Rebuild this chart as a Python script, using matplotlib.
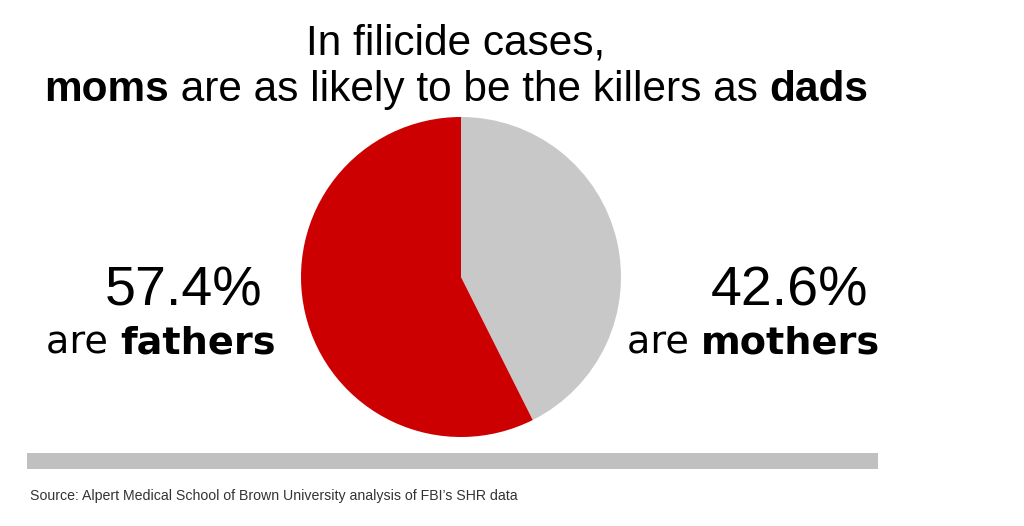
import matplotlib
matplotlib.use("Agg")
import matplotlib.pyplot as plt

# data
labels = ["mothers", "fathers"]
shares = [42.6, 57.4]
colors = ["#c8c8c8", "#cc0000"]

title_1 = "In filicide cases,"
title_2 = [("moms", "bold"), (" are as likely to be the killers as ", "normal"), ("dads", "bold")]
left_pct = "57.4%"
right_pct = "42.6%"
source = "Source: Alpert Medical School of Brown University analysis of FBI\u2019s SHR data"

W, H = 1024, 526
sans = ["Liberation Sans", "DejaVu Sans"]
wide = ["DejaVu Sans"]

fig = plt.figure(figsize=(W / 100, H / 100), dpi=100)
fig.patch.set_facecolor("white")

# pie, centre (461, 277), radius 160 px
ax = fig.add_axes([(461 - 160) / W, (H - 277 - 160) / H, 320 / W, 320 / H])
ax.pie(shares, colors=colors, startangle=90, counterclock=False,
       wedgeprops=dict(linewidth=0))
ax.set_xlim(-1, 1)
ax.set_ylim(-1, 1)
ax.set_aspect("equal")
ax.axis("off")

renderer = fig.canvas.get_renderer()


def fy(py):
    return 1 - py / H


def rich(px, py, parts, size, family, ha="center", color="black"):
    # place text pieces with mixed weights on one baseline
    widths = []
    for s, w in parts:
        t = fig.text(0, 0, s, fontsize=size, fontweight=w, family=family)
        widths.append(t.get_window_extent(renderer).width)
        t.remove()
    total = sum(widths)
    if ha == "center":
        x = px - total / 2
    elif ha == "right":
        x = px - total
    else:
        x = px
    for (s, w), wd in zip(parts, widths):
        fig.text(x / W, fy(py), s, fontsize=size, fontweight=w, family=family,
                 va="baseline", ha="left", color=color)
        x += wd


rich(456, 55, [(title_1, "normal")], 30.5, sans)
rich(456, 101, title_2, 30.5, sans)

rich(184, 305, [(left_pct, "normal")], 40, sans)
rich(161, 353, [("are ", "normal"), ("fathers", "bold")], 27.5, wide)
rich(790, 305, [(right_pct, "normal")], 40, sans)
rich(754, 353, [("are ", "normal"), ("mothers", "bold")], 27.5, wide)

# grey rule
fig.patches.append(plt.Rectangle((27 / W, fy(469)), (878 - 27) / W, 16 / H,
                                 transform=fig.transFigure, color="#c0c0c0",
                                 linewidth=0))

fig.text(30 / W, fy(500), source, fontsize=10.2, family=sans, va="baseline",
         color="#333333")

fig.savefig("out.png", dpi=100, facecolor="white")
